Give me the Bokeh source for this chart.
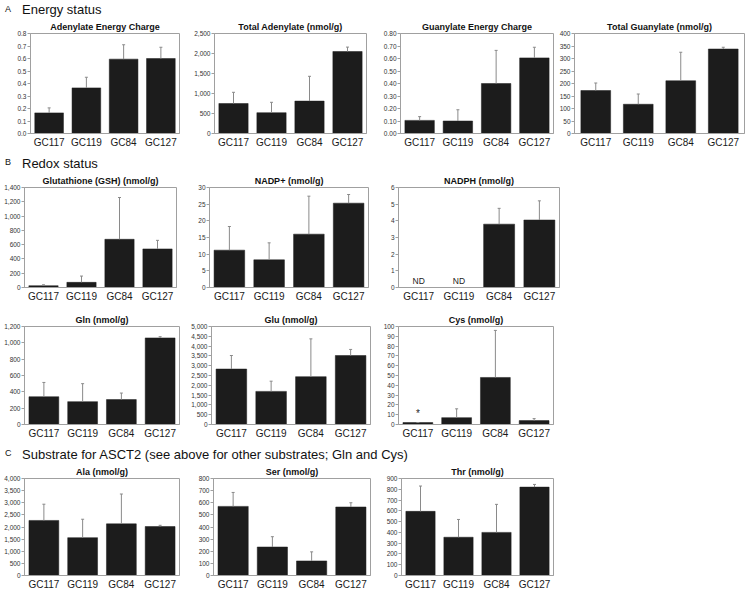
from bokeh.plotting import figure
from bokeh.layouts import column, row
from bokeh.models import (ColumnDataSource, Range1d, FactorRange, FixedTicker,
                          NumeralTickFormatter, Div, Spacer)
from bokeh.core.properties import value
from bokeh.embed import file_html
from bokeh.resources import INLINE

FONT = "Liberation Sans"

# ---------------- data ----------------
categories = ["GC117", "GC119", "GC84", "GC127"]

aec_mean = [0.165, 0.365, 0.595, 0.600]
aec_err = [0.040, 0.085, 0.115, 0.090]

tad_mean = [750, 520, 810, 2050]
tad_err = [280, 260, 620, 110]

gec_mean = [0.105, 0.100, 0.400, 0.605]
gec_err = [0.030, 0.090, 0.265, 0.085]

tgu_mean = [172, 117, 211, 338]
tgu_err = [30, 41, 114, 7]

gsh_mean = [25, 72, 675, 540]
gsh_err = [13, 88, 585, 120]

nadp_mean = [11.2, 8.3, 16.0, 25.3]
nadp_err = [7.1, 5.1, 11.4, 2.6]

nadph_mean = [None, None, 3.80, 4.05]   # None = not detected (ND)
nadph_err = [None, None, 0.95, 1.15]
nadph_notes = ["ND", "ND", "", ""]

gln_mean = [340, 280, 305, 1060]
gln_err = [175, 220, 80, 15]

glu_mean = [2830, 1690, 2440, 3520]
glu_err = [690, 520, 1930, 310]

cys_mean = [2, 7, 48, 4]
cys_err = [0, 9, 48, 2]
cys_notes = ["*", "", "", ""]
cys_note_y = [8, 0, 0, 0]

ala_mean = [2270, 1560, 2130, 2020]
ala_err = [670, 760, 1230, 50]

ser_mean = [570, 235, 120, 565]
ser_err = [115, 85, 75, 35]

thr_mean = [595, 355, 400, 820]
thr_err = [235, 165, 260, 25]

# y-axis: (max, step, format)
axis_aec = (0.8, 0.1, "0.0")
axis_tad = (2500, 500, "0,0")
axis_gec = (0.8, 0.1, "0.00")
axis_tgu = (400, 50, "0")
axis_gsh = (1400, 200, "0,0")
axis_nadp = (30, 5, "0")
axis_nadph = (6, 1, "0")
axis_gln = (1200, 200, "0,0")
axis_glu = (5000, 500, "0,0")
axis_cys = (100, 10, "0")
axis_ala = (4000, 500, "0,0")
axis_ser = (800, 100, "0")
axis_thr = (900, 100, "0")

GRAY = "#a0a0a0"
BAR = "#1c1c1c"


def panel(title, means, errs, axis, fl, fr, bl, top_b, frame_h,
          bar_w=0.77, notes=None, note_y=None, note_size="8px", note_off=-2):
    ymax, step, fmt = axis
    br, bb = 3, 18
    W = (fr - fl) + bl + br
    H = top_b + frame_h + bb
    p = figure(x_range=FactorRange(*categories), y_range=Range1d(0, ymax),
               width=W, height=H, output_backend="svg", toolbar_location=None,
               tools="", min_border_left=bl, min_border_right=br,
               min_border_top=top_b, min_border_bottom=bb, title=title)
    p.background_fill_color = "white"
    p.border_fill_color = "white"
    p.border_fill_alpha = 0
    p.outline_line_color = GRAY
    p.outline_line_width = 1
    p.xgrid.grid_line_color = None
    p.ygrid.grid_line_color = None

    p.title.text_font = FONT
    p.title.text_font_size = "9px"
    p.title.text_font_style = "bold"
    p.title.text_color = "#111111"
    p.title.align = "center"
    p.title.standoff = 4

    xs = [c for c, m in zip(categories, means) if m is not None]
    ms = [m for m in means if m is not None]
    es = [e for e, m in zip(errs, means) if m is not None]
    tops = [m + e for m, e in zip(ms, es)]
    src = ColumnDataSource(dict(x=xs, m=ms, e=es, t=tops))
    p.vbar(x="x", top="m", bottom=0, width=bar_w, source=src,
           fill_color=BAR, line_color=BAR, line_width=0.5)
    p.segment(x0="x", y0="m", x1="x", y1="t", source=src,
              line_color="#8a8a8a", line_width=1)
    p.scatter(x="x", y="t", source=src, marker="dash", size=3,
              line_color="#8a8a8a", line_width=1)

    if notes is not None:
        nx = [c for c, n in zip(categories, notes) if n]
        nt = [n for n in notes if n]
        ny = [y for y, n in zip(note_y, notes) if n]
        nsrc = ColumnDataSource(dict(x=nx, y=ny, t=nt))
        p.text(x="x", y="y", text="t", source=nsrc, text_align="center",
               text_baseline="bottom", text_font=value(FONT),
               text_font_size=note_size, text_color="#222222", y_offset=note_off)

    n = int(round(ymax / step))
    p.yaxis.ticker = FixedTicker(ticks=[round(i * step, 6) for i in range(n + 1)])
    p.yaxis.formatter = NumeralTickFormatter(format=fmt)
    p.yaxis.axis_line_color = GRAY
    p.yaxis.major_tick_line_color = GRAY
    p.yaxis.major_tick_out = 3
    p.yaxis.major_tick_in = 0
    p.yaxis.minor_tick_line_color = None
    p.yaxis.minor_tick_out = 0
    p.yaxis.major_label_standoff = 1
    p.yaxis.major_label_text_font = FONT
    p.yaxis.major_label_text_font_size = "6.5px"
    p.yaxis.major_label_text_color = "#333333"

    p.xaxis.axis_line_color = GRAY
    p.xaxis.major_tick_line_color = None
    p.xaxis.major_tick_out = 0
    p.xaxis.major_tick_in = 0
    p.xaxis.minor_tick_line_color = None
    p.xaxis.major_label_standoff = 3
    p.xaxis.major_label_text_font = FONT
    p.xaxis.major_label_text_font_size = "10px"
    p.xaxis.major_label_text_color = "#1a1a1a"
    p._fl = fl - bl
    p._fr = fr + br
    return p


def build_row(figs):
    kids = []
    pos = 0
    for f in figs:
        gap = f._fl - pos
        if gap > 0:
            kids.append(Spacer(width=gap, height=1))
        kids.append(f)
        pos = f._fr
    return row(*kids, spacing=0)


def header(letter, text, h, top_big, top_small):
    html = (
        f'<div style="position:relative;width:740px;height:{h}px;'
        f'font-family:\'{FONT}\';color:#111;">'
        f'<span style="position:absolute;left:5px;top:{top_small}px;'
        f'font-size:9px;line-height:1;">{letter}</span>'
        f'<span style="position:absolute;left:22px;top:{top_big}px;'
        f'font-size:13px;line-height:1;white-space:nowrap;">{text}</span></div>'
    )
    return Div(text=html, width=740, height=h, margin=(0, 0, 0, 0))


# Row A
pA1 = panel("Adenylate Energy Charge", aec_mean, aec_err, axis_aec, 30, 179, 16, 17, 100)
pA2 = panel("Total Adenylate (nmol/g)", tad_mean, tad_err, axis_tad, 213, 366, 22, 17, 100)
pA3 = panel("Guanylate Energy Charge", gec_mean, gec_err, axis_gec, 399, 553, 19, 17, 100)
pA4 = panel("Total Guanylate (nmol/g)", tgu_mean, tgu_err, axis_tgu, 572, 744, 16, 17, 100, bar_w=0.7)

# Row B1
pB1 = panel("Glutathione (GSH) (nmol/g)", gsh_mean, gsh_err, axis_gsh, 23, 176, 22, 17, 100)
pB2 = panel("NADP+ (nmol/g)", nadp_mean, nadp_err, axis_nadp, 209, 368, 14, 17, 100)
pB3 = panel("NADPH (nmol/g)", nadph_mean, nadph_err, axis_nadph, 397, 559, 10, 17, 100,
            notes=nadph_notes, note_y=[0, 0, 0, 0], note_size="8.5px", note_off=-2)

# Row B2
pB4 = panel("Gln (nmol/g)", gln_mean, gln_err, axis_gln, 23, 179, 22, 21, 98)
pB5 = panel("Glu (nmol/g)", glu_mean, glu_err, axis_glu, 210, 370, 22, 21, 98)
pB6 = panel("Cys (nmol/g)", cys_mean, cys_err, axis_cys, 396, 553, 16, 21, 98,
            notes=cys_notes, note_y=cys_note_y, note_size="10px", note_off=2)

# Row C
pC1 = panel("Ala (nmol/g)", ala_mean, ala_err, axis_ala, 23, 179, 22, 17, 97)
pC2 = panel("Ser (nmol/g)", ser_mean, ser_err, axis_ser, 211, 370, 16, 17, 97)
pC3 = panel("Thr (nmol/g)", thr_mean, thr_err, axis_thr, 399, 553, 16, 17, 97)

hA = header("A", "Energy status", 16, 3, 5)
hB = header("B", "Redox status", 19, 6, 7)
hC = header("C", "Substrate for ASCT2 (see above for other substrates; Gln and Cys)", 19, 6, 7)

layout = column(
    hA,
    build_row([pA1, pA2, pA3, pA4]),
    hB,
    build_row([pB1, pB2, pB3]),
    build_row([pB4, pB5, pB6]),
    hC,
    build_row([pC1, pC2, pC3]),
    spacing=0,
)

open("out.html", "w").write(file_html(layout, INLINE, title="Energy and redox status"))
